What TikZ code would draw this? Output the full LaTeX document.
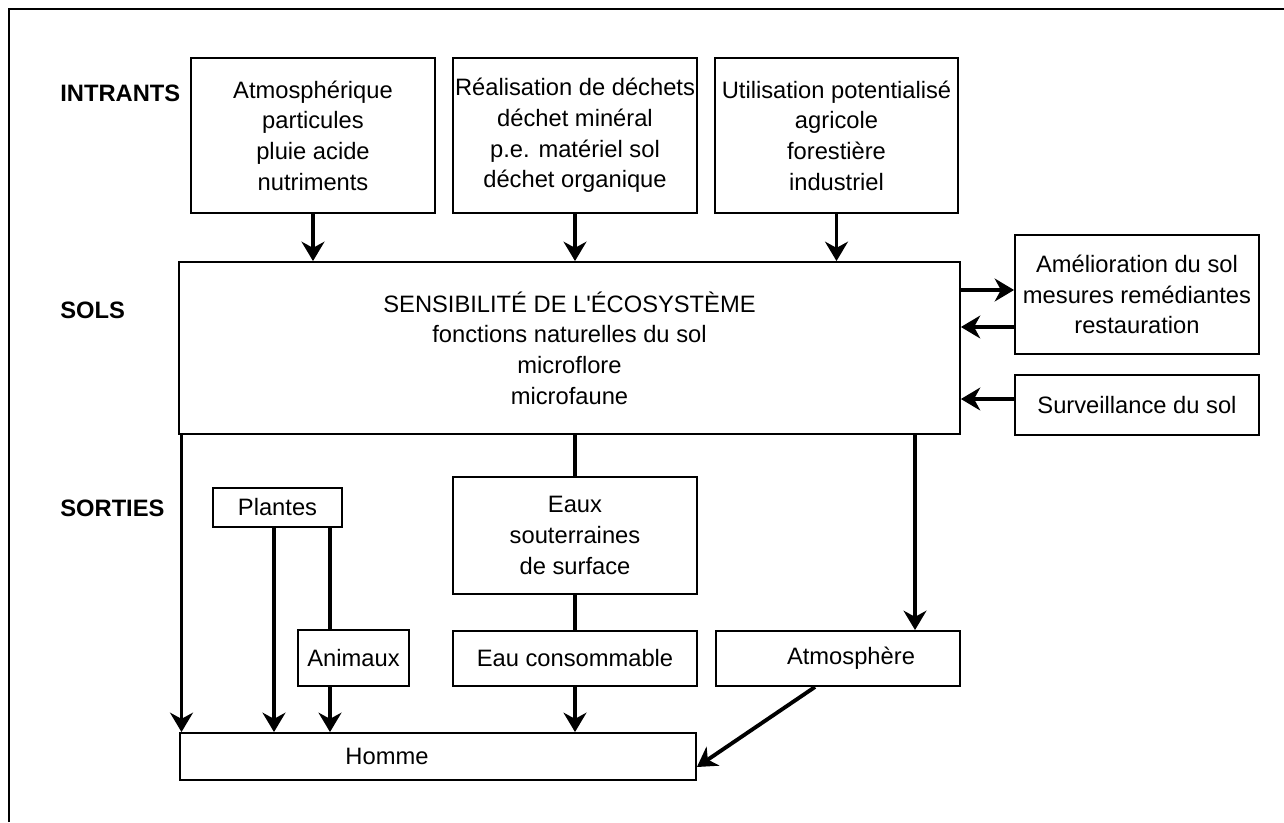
\documentclass[tikz,border=0pt]{standalone}
\usepackage{fontspec}
\setmainfont{Liberation Sans}[Ligatures=TeXOff]
\usetikzlibrary{arrows.meta}

\begin{document}
\begin{tikzpicture}[
    x=0.02cm, y=-0.02cm,
    every node/.style={font=\fontsize{13.5}{17.5}\selectfont, align=center},
    box/.style={draw, line width=1.1pt, inner sep=0pt},
    side/.style={font=\fontsize{13.5}{17.5}\selectfont\bfseries, anchor=west, inner sep=0pt},
    arr/.style={line width=2.2pt, -{Stealth[length=11pt, width=13pt, inset=3.5pt]}},
    link/.style={line width=2.2pt}
]
% Set manual bounding box
\useasboundingbox (0,0) rectangle (1284,822);
\draw[line width=1.5pt] (9,822) -- (9,9) -- (1284,9);

% Row labels
\node[side] (intrants) at (60,93) {INTRANTS};
\node[side] (sols) at (60,310) {SOLS};
\node[side] (sorties) at (60,508) {SORTIES};

% Inputs
\node[box, minimum width=4.88cm, minimum height=3.1cm] (atmos) at (313,135.5) {Atmosphérique\\particules\\pluie acide\\nutriments};
\node[box, minimum width=4.88cm, minimum height=3.1cm] (dechets) at (575,135.5) {Réalisation de déchets\\déchet minéral\\p.e. matériel sol\\déchet organique};
\node[box, minimum width=4.86cm, minimum height=3.1cm] (usage) at (836.5,135.5) {Utilisation potentialisé\\agricole\\forestière\\industriel};

% Soils
\node[box, minimum width=15.62cm, minimum height=3.44cm] (sens) at (569.5,348) {SENSIBILITÉ DE L'ÉCOSYSTÈME\\fonctions naturelles du sol\\microflore\\microfaune};
\node[box, minimum width=4.88cm, minimum height=2.38cm] (amelio) at (1137,294.5) {Amélioration du sol\\mesures remédiantes\\restauration};
\node[box, minimum width=4.88cm, minimum height=1.2cm] (surv) at (1137,405) {Surveillance du sol};

% Outputs
\node[box, minimum width=2.58cm, minimum height=0.78cm] (plantes) at (277.5,507.5) {Plantes};
\node[box, minimum width=4.88cm, minimum height=2.34cm] (eaux) at (575,535.5) {Eaux\\souterraines\\de surface};
\node[box, minimum width=2.22cm, minimum height=1.12cm] (animaux) at (353.5,658) {Animaux};
\node[box, minimum width=4.88cm, minimum height=1.1cm] (eauc) at (575,658.5) {Eau consommable};
\node[box, minimum width=4.88cm, minimum height=1.1cm] (atmo) at (838,658.5) {};
\node (atmotext) at (851,658) {Atmosphère};
\node[box, minimum width=10.32cm, minimum height=0.94cm] (homme) at (438,756.5) {};
\node (hommetext) at (387,756) {Homme};

% Helper coordinates
\coordinate (r1) at (0,290);
\coordinate (r2) at (0,327);
\coordinate (r3) at (0,399);
\coordinate (l1) at (181.5,0);
\coordinate (p1) at (274,0);
\coordinate (p2) at (330,0);
\coordinate (a1) at (915,0);
\coordinate (a2) at (815,0);
\coordinate (a3) at (0,767);

% Connections
\draw[arr] (atmos.south) -- (atmos.south |- sens.north);
\draw[arr] (dechets.south) -- (dechets.south |- sens.north);
\draw[arr] (usage.south) -- (usage.south |- sens.north);

\draw[arr] (sens.east |- r1) -- (amelio.west |- r1);
\draw[arr] (amelio.west |- r2) -- (sens.east |- r2);
\draw[arr] (surv.west |- r3) -- (sens.east |- r3);

\draw[arr] (sens.south -| l1) -- (homme.north -| l1);
\draw[arr] (plantes.south -| p1) -- (homme.north -| p1);
\draw[link] (plantes.south -| p2) -- (animaux.north -| p2);
\draw[arr] (animaux.south -| p2) -- (homme.north -| p2);

\draw[link] (sens.south -| eaux.north) -- (eaux.north);
\draw[link] (eaux.south) -- (eauc.north);
\draw[arr] (eauc.south) -- (homme.north -| eauc.south);

\draw[arr] (sens.south -| a1) -- (atmo.north -| a1);
\draw[arr] (atmo.south -| a2) -- (homme.east |- a3);

\end{tikzpicture}
\end{document}
